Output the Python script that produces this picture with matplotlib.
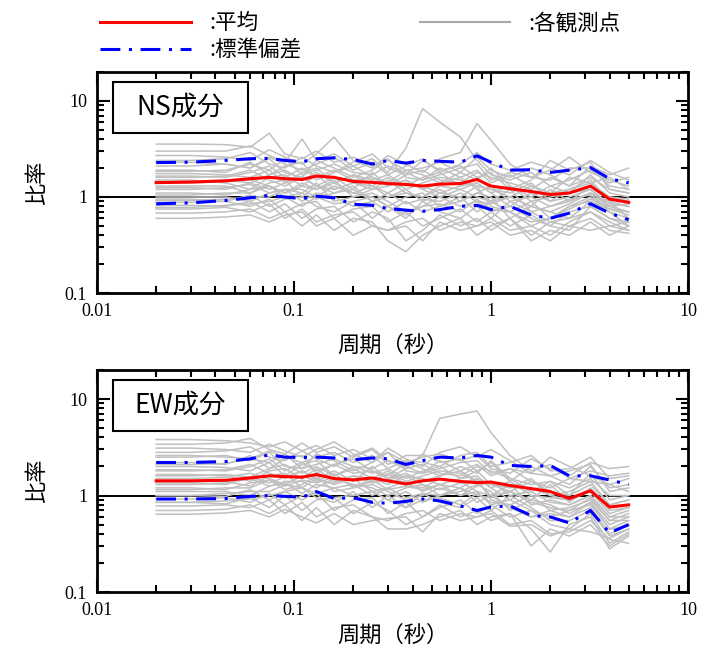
import numpy as np
import matplotlib.pyplot as plt
from matplotlib.lines import Line2D
from matplotlib.patches import Rectangle

plt.rcParams['font.family'] = ['Noto Sans CJK JP', 'DejaVu Sans']

# periods (s) used for all curves
period = [0.02, 0.03, 0.045, 0.06, 0.075, 0.09, 0.11, 0.13, 0.16, 0.2, 0.25, 0.3, 0.37,
          0.45, 0.55, 0.7, 0.85, 1.0, 1.25, 1.6, 2.0, 2.5, 3.2, 4.0, 5.0]

# NS component
ns_mean = [1.41, 1.43, 1.47, 1.55, 1.6, 1.55, 1.52, 1.65, 1.6, 1.45, 1.42, 1.38, 1.35,
           1.3, 1.36, 1.38, 1.52, 1.3, 1.22, 1.14, 1.06, 1.1, 1.3, 0.95, 0.88]
ns_upper = [2.28, 2.3, 2.4, 2.5, 2.52, 2.4, 2.32, 2.5, 2.55, 2.45, 2.2, 2.4, 2.25,
            2.4, 2.35, 2.3, 2.68, 2.3, 1.9, 1.92, 1.8, 1.9, 2.02, 1.55, 1.4]
ns_lower = [0.85, 0.87, 0.92, 0.98, 1.04, 1.0, 0.96, 1.02, 0.98, 0.84, 0.82, 0.76, 0.73,
            0.71, 0.74, 0.8, 0.82, 0.74, 0.8, 0.65, 0.6, 0.68, 0.85, 0.68, 0.58]
ns_sites = [
    [3.55, 3.55, 3.5, 3.3, 4.6, 2.8, 2.5, 3.0, 2.3, 2.6, 2.1, 2.4, 1.9, 2.0, 2.3, 1.8, 2.6, 1.9, 1.6, 2.0, 1.7, 1.3, 2.1, 1.7, 2.0],
    [3.0, 3.0, 3.0, 3.4, 2.7, 2.3, 4.0, 2.4, 2.8, 2.1, 2.5, 1.8, 3.2, 8.3, 6.0, 4.2, 2.4, 1.7, 1.5, 1.8, 1.3, 1.5, 1.9, 1.4, 1.6],
    [2.7, 2.7, 2.6, 2.4, 3.1, 2.6, 2.2, 2.8, 4.2, 2.4, 2.0, 2.7, 2.2, 1.8, 2.5, 2.9, 5.8, 3.9, 2.2, 1.6, 1.9, 2.6, 1.8, 1.5, 1.3],
    [2.4, 2.4, 2.5, 2.9, 2.2, 2.0, 2.6, 2.1, 1.8, 2.3, 2.8, 2.0, 1.7, 2.4, 1.9, 2.1, 1.6, 1.8, 1.2, 1.5, 2.4, 1.9, 2.3, 1.2, 1.1],
    [2.3, 2.3, 2.2, 2.0, 2.6, 2.2, 1.9, 2.2, 2.6, 1.9, 2.3, 1.7, 2.1, 2.5, 1.8, 2.2, 2.9, 2.2, 1.9, 2.3, 2.0, 1.7, 2.4, 1.8, 1.5],
    [2.1, 2.1, 2.2, 2.0, 2.5, 1.8, 1.6, 2.4, 2.0, 1.6, 1.9, 2.5, 1.6, 1.5, 2.0, 1.6, 1.9, 1.4, 1.7, 1.3, 1.1, 1.6, 1.4, 1.6, 1.2],
    [1.9, 1.9, 1.8, 2.3, 1.7, 2.1, 2.3, 1.5, 1.8, 2.1, 1.6, 1.4, 1.9, 1.7, 1.4, 1.8, 1.5, 2.0, 1.3, 1.0, 1.3, 1.1, 1.7, 1.1, 1.0],
    [1.85, 1.85, 1.9, 2.2, 1.9, 2.5, 1.7, 1.9, 2.2, 1.8, 1.7, 2.1, 1.8, 1.5, 1.7, 2.0, 2.2, 1.5, 1.8, 1.6, 1.5, 2.0, 2.0, 1.3, 1.2],
    [1.75, 1.75, 1.7, 1.6, 1.9, 1.4, 1.8, 2.0, 1.4, 1.7, 1.5, 1.7, 1.3, 1.6, 1.8, 1.3, 1.6, 1.2, 1.1, 1.4, 0.9, 1.2, 1.5, 0.9, 0.8],
    [1.65, 1.65, 1.6, 1.8, 2.1, 1.6, 2.0, 1.6, 1.9, 1.5, 1.6, 1.3, 1.7, 1.9, 1.5, 1.4, 1.8, 1.6, 1.4, 1.2, 1.6, 1.3, 1.6, 1.2, 1.1],
    [1.6, 1.6, 1.65, 1.9, 1.5, 1.3, 1.6, 1.3, 1.6, 1.2, 1.8, 1.3, 1.5, 1.2, 1.4, 1.6, 1.2, 0.9, 1.0, 0.8, 1.2, 0.9, 1.3, 1.0, 0.9],
    [1.5, 1.5, 1.4, 1.2, 1.6, 1.7, 1.3, 1.7, 1.2, 1.4, 1.3, 1.1, 1.4, 1.3, 1.1, 1.3, 1.4, 1.1, 0.8, 1.1, 0.9, 1.0, 1.2, 0.8, 0.7],
    [1.45, 1.45, 1.5, 1.4, 1.7, 1.9, 1.5, 1.8, 1.4, 1.7, 1.3, 1.6, 1.2, 1.4, 1.6, 1.5, 1.3, 1.2, 1.0, 1.3, 1.1, 1.2, 1.4, 1.0, 0.95],
    [1.4, 1.4, 1.45, 1.5, 1.3, 1.1, 1.4, 1.2, 1.5, 1.0, 1.2, 1.5, 1.1, 1.0, 1.3, 1.2, 1.0, 0.9, 1.2, 0.7, 0.8, 0.9, 1.1, 0.8, 0.85],
    [1.3, 1.3, 1.3, 1.1, 1.4, 1.5, 1.0, 1.3, 1.1, 1.3, 0.9, 1.0, 1.2, 0.9, 1.1, 1.0, 1.3, 0.8, 0.7, 0.9, 0.6, 0.8, 1.0, 0.7, 0.6],
    [1.25, 1.25, 1.2, 1.4, 1.2, 1.4, 1.6, 1.3, 1.2, 1.4, 1.2, 1.3, 1.5, 1.2, 1.0, 1.2, 1.4, 1.1, 1.3, 0.9, 1.0, 1.1, 1.2, 0.85, 0.8],
    [1.2, 1.2, 1.25, 1.35, 1.1, 1.2, 1.2, 1.0, 1.3, 1.1, 1.0, 0.8, 1.0, 1.1, 0.8, 0.9, 1.1, 1.0, 0.6, 0.8, 0.7, 0.6, 0.9, 0.75, 0.65],
    [1.1, 1.1, 1.05, 1.2, 1.3, 1.0, 1.1, 1.4, 0.9, 1.0, 1.1, 0.9, 0.7, 0.8, 1.0, 0.8, 0.9, 0.7, 0.8, 0.6, 0.5, 0.7, 0.8, 0.6, 0.55],
    [1.05, 1.05, 1.1, 1.1, 1.3, 1.1, 1.3, 1.2, 1.4, 1.1, 1.3, 1.0, 1.1, 1.0, 1.2, 0.9, 1.1, 1.3, 0.9, 1.0, 0.8, 0.95, 1.05, 0.75, 0.7],
    [1.0, 1.0, 1.0, 0.9, 1.1, 1.2, 0.9, 1.1, 1.0, 0.8, 0.9, 0.7, 0.9, 0.7, 0.8, 1.0, 0.7, 0.9, 0.7, 0.5, 0.6, 0.8, 0.9, 0.7, 0.5],
    [0.95, 0.95, 0.9, 1.05, 0.8, 0.95, 1.0, 0.8, 0.7, 0.9, 0.6, 0.8, 0.6, 0.9, 0.7, 0.6, 0.8, 0.6, 0.9, 0.7, 0.55, 0.6, 0.7, 0.55, 0.45],
    [0.92, 0.92, 0.95, 1.0, 1.0, 1.2, 1.1, 0.95, 1.1, 1.2, 0.9, 1.1, 0.85, 0.95, 0.9, 1.1, 0.9, 0.85, 1.0, 0.8, 0.7, 0.85, 1.1, 0.9, 0.6],
    [0.88, 0.88, 0.9, 0.8, 0.95, 0.7, 0.85, 0.9, 0.6, 0.75, 0.8, 0.55, 0.7, 0.5, 0.6, 0.75, 0.55, 0.7, 0.5, 0.65, 0.5, 0.45, 0.8, 0.6, 0.5],
    [0.82, 0.82, 0.8, 0.9, 0.7, 0.85, 0.6, 0.75, 0.8, 0.55, 0.7, 0.6, 0.35, 0.45, 0.65, 0.5, 0.6, 0.45, 0.6, 0.4, 0.55, 0.5, 0.6, 0.45, 0.42],
    [0.78, 0.78, 0.82, 0.85, 0.9, 1.0, 0.8, 1.0, 0.85, 0.9, 1.0, 0.8, 0.65, 0.8, 0.85, 0.7, 0.95, 0.75, 0.7, 0.55, 0.6, 0.75, 0.95, 0.8, 0.7],
    [0.75, 0.75, 0.78, 0.7, 0.85, 0.6, 0.75, 0.55, 0.65, 0.7, 0.5, 0.45, 0.55, 0.6, 0.45, 0.55, 0.5, 0.6, 0.45, 0.5, 0.4, 0.55, 0.7, 0.5, 0.45],
    [0.68, 0.68, 0.7, 0.75, 0.6, 0.7, 0.5, 0.65, 0.45, 0.6, 0.55, 0.35, 0.27, 0.4, 0.5, 0.6, 0.4, 0.5, 0.6, 0.35, 0.45, 0.4, 0.55, 0.4, 0.5],
    [0.6, 0.6, 0.62, 0.65, 0.55, 0.65, 0.7, 0.5, 0.6, 0.4, 0.5, 0.45, 0.5, 0.35, 0.55, 0.45, 0.5, 0.55, 0.4, 0.45, 0.35, 0.5, 0.45, 0.5, 0.55],
]

# EW component
ew_mean = [1.42, 1.42, 1.44, 1.52, 1.6, 1.57, 1.55, 1.65, 1.5, 1.45, 1.52, 1.42, 1.32,
           1.42, 1.48, 1.4, 1.36, 1.38, 1.27, 1.18, 1.1, 0.93, 1.12, 0.76, 0.8]
ew_upper = [2.2, 2.2, 2.25, 2.4, 2.64, 2.5, 2.48, 2.5, 2.45, 2.35, 2.45, 2.4, 2.1,
            2.3, 2.5, 2.45, 2.6, 2.5, 2.05, 2.0, 2.05, 1.6, 1.6, 1.45, 1.3]
ew_lower = [0.92, 0.92, 0.93, 0.98, 1.0, 0.98, 0.96, 1.1, 0.93, 0.95, 0.85, 0.83, 0.87,
            0.92, 0.88, 0.78, 0.7, 0.76, 0.78, 0.62, 0.6, 0.52, 0.7, 0.41, 0.5]
ew_sites = [
    [3.8, 3.8, 3.7, 3.5, 3.2, 3.6, 2.9, 3.3, 2.6, 3.0, 2.4, 2.8, 2.2, 2.5, 2.7, 2.3, 2.6, 1.9, 1.7, 2.4, 1.9, 1.6, 2.2, 1.9, 2.0],
    [3.4, 3.4, 3.5, 3.9, 3.0, 2.7, 3.5, 2.8, 3.2, 2.5, 3.0, 2.1, 2.6, 2.6, 6.3, 7.0, 7.5, 4.5, 2.6, 1.8, 2.1, 1.5, 1.8, 1.6, 1.7],
    [3.1, 3.1, 3.0, 2.8, 3.4, 2.9, 2.5, 3.0, 3.6, 2.7, 2.2, 3.1, 2.4, 2.0, 2.8, 3.2, 2.5, 3.0, 2.3, 1.7, 2.5, 2.0, 1.6, 1.3, 1.5],
    [2.8, 2.8, 2.9, 3.2, 2.5, 2.3, 2.9, 2.4, 2.0, 2.6, 3.1, 2.3, 1.9, 2.7, 2.2, 2.4, 1.8, 2.2, 1.4, 2.0, 1.6, 1.8, 2.1, 1.1, 1.2],
    [2.6, 2.6, 2.5, 2.4, 2.9, 2.5, 2.2, 2.5, 2.8, 2.2, 2.6, 1.9, 2.3, 2.2, 2.0, 2.6, 2.8, 2.0, 2.2, 2.6, 1.8, 1.9, 2.5, 1.5, 1.6],
    [2.5, 2.5, 2.6, 2.3, 2.8, 2.0, 1.9, 2.7, 2.3, 1.8, 2.2, 2.8, 1.8, 1.7, 2.3, 1.8, 2.1, 1.6, 1.9, 1.4, 1.2, 1.5, 1.4, 1.3, 1.1],
    [2.2, 2.2, 2.1, 2.6, 1.9, 2.4, 2.6, 1.7, 2.1, 2.4, 1.8, 1.6, 2.2, 1.9, 1.6, 2.0, 1.7, 2.3, 1.5, 1.1, 1.4, 1.0, 1.7, 0.9, 1.0],
    [2.1, 2.1, 2.15, 2.4, 2.2, 2.7, 1.9, 2.1, 2.4, 2.0, 1.9, 2.3, 2.0, 1.7, 1.9, 2.2, 2.3, 1.7, 1.9, 1.7, 1.6, 1.3, 2.0, 1.2, 1.3],
    [2.0, 2.0, 1.95, 1.8, 2.2, 1.6, 2.1, 2.3, 1.6, 2.0, 1.7, 1.9, 1.5, 1.8, 2.0, 1.5, 1.8, 1.3, 1.2, 1.5, 1.0, 1.1, 1.4, 0.8, 0.9],
    [1.85, 1.85, 1.8, 2.0, 2.4, 1.8, 2.2, 1.8, 2.1, 1.7, 1.8, 1.5, 1.9, 2.1, 1.7, 1.6, 2.0, 1.8, 1.5, 1.3, 1.4, 1.2, 1.5, 1.0, 1.0],
    [1.8, 1.8, 1.85, 2.1, 1.7, 1.5, 1.8, 1.5, 1.8, 1.4, 2.0, 1.5, 1.7, 1.4, 1.6, 1.8, 1.4, 1.0, 1.1, 0.9, 1.3, 0.85, 1.2, 0.75, 0.8],
    [1.65, 1.65, 1.6, 1.4, 1.8, 1.9, 1.5, 1.9, 1.4, 1.6, 1.5, 1.3, 1.6, 1.5, 1.3, 1.5, 1.6, 1.2, 0.9, 1.2, 1.0, 0.9, 1.1, 0.65, 0.75],
    [1.6, 1.6, 1.65, 1.55, 1.9, 2.1, 1.7, 2.0, 1.6, 1.9, 1.5, 1.8, 1.4, 1.6, 1.8, 1.7, 1.4, 1.3, 1.1, 1.4, 1.1, 1.0, 1.3, 0.8, 0.9],
    [1.5, 1.5, 1.55, 1.7, 1.5, 1.3, 1.6, 1.4, 1.7, 1.2, 1.4, 1.7, 1.3, 1.2, 1.5, 1.4, 1.1, 1.0, 1.3, 0.8, 0.9, 0.8, 1.0, 0.6, 0.7],
    [1.4, 1.4, 1.4, 1.25, 1.6, 1.7, 1.2, 1.5, 1.3, 1.5, 1.1, 1.2, 1.4, 1.1, 1.3, 1.2, 1.5, 0.9, 0.8, 1.0, 0.7, 0.75, 0.9, 0.55, 0.65],
    [1.35, 1.35, 1.3, 1.55, 1.35, 1.55, 1.8, 1.45, 1.35, 1.6, 1.35, 1.45, 1.6, 1.3, 1.15, 1.35, 1.5, 1.2, 1.4, 1.0, 0.95, 0.9, 1.15, 0.7, 0.75],
    [1.3, 1.3, 1.35, 1.5, 1.25, 1.4, 1.4, 1.2, 1.5, 1.3, 1.2, 1.0, 1.2, 1.3, 1.0, 1.1, 1.3, 1.1, 0.7, 0.9, 0.8, 0.65, 0.85, 0.5, 0.6],
    [1.2, 1.2, 1.15, 1.35, 1.45, 1.15, 1.3, 1.6, 1.1, 1.2, 1.3, 1.1, 0.9, 1.0, 1.2, 1.0, 1.1, 0.8, 0.9, 0.7, 0.6, 0.7, 0.8, 0.45, 0.55],
    [1.15, 1.15, 1.2, 1.2, 1.45, 1.25, 1.45, 1.35, 1.55, 1.25, 1.45, 1.15, 1.25, 1.15, 1.3, 1.0, 1.25, 1.4, 1.0, 1.1, 0.85, 0.8, 1.0, 0.6, 0.6],
    [1.1, 1.1, 1.1, 1.0, 1.25, 1.35, 1.05, 1.3, 1.2, 1.0, 1.1, 0.9, 1.1, 0.85, 1.0, 1.2, 0.85, 1.0, 0.75, 0.6, 0.7, 0.6, 0.75, 0.4, 0.5],
    [1.0, 1.0, 1.05, 1.1, 1.1, 1.3, 1.2, 1.05, 1.2, 1.3, 1.0, 1.2, 0.95, 1.05, 1.0, 1.2, 1.0, 0.95, 1.1, 0.85, 0.75, 0.7, 0.95, 0.55, 0.55],
    [1.0, 1.0, 0.98, 1.15, 0.9, 1.1, 1.2, 0.95, 0.85, 1.1, 0.75, 1.0, 0.75, 1.05, 0.85, 0.75, 0.95, 0.7, 1.0, 0.75, 0.55, 0.55, 0.7, 0.38, 0.45],
    [0.92, 0.92, 0.95, 0.85, 1.05, 0.8, 1.0, 1.05, 0.7, 0.9, 0.95, 0.65, 0.85, 0.6, 0.75, 0.9, 0.65, 0.8, 0.6, 0.7, 0.5, 0.45, 0.65, 0.32, 0.42],
    [0.85, 0.85, 0.88, 0.92, 1.0, 1.1, 0.9, 1.1, 0.95, 1.0, 1.1, 0.9, 0.75, 0.9, 0.95, 0.8, 1.05, 0.85, 0.8, 0.6, 0.65, 0.6, 0.85, 0.45, 0.48],
    [0.85, 0.85, 0.82, 0.95, 0.75, 1.0, 0.7, 0.9, 0.95, 0.65, 0.85, 0.7, 0.5, 0.6, 0.8, 0.6, 0.7, 0.55, 0.65, 0.45, 0.26, 0.5, 0.6, 0.28, 0.38],
    [0.78, 0.78, 0.8, 0.75, 0.9, 0.65, 0.85, 0.6, 0.75, 0.8, 0.6, 0.55, 0.65, 0.7, 0.55, 0.65, 0.6, 0.7, 0.5, 0.55, 0.4, 0.42, 0.55, 0.35, 0.32],
    [0.7, 0.7, 0.72, 0.8, 0.65, 0.8, 0.55, 0.75, 0.5, 0.7, 0.6, 0.45, 0.45, 0.5, 0.6, 0.7, 0.5, 0.6, 0.65, 0.3, 0.45, 0.38, 0.5, 0.3, 0.4],
    [0.64, 0.64, 0.66, 0.7, 0.6, 0.72, 0.6, 0.52, 0.65, 0.5, 0.55, 0.58, 0.6, 0.42, 0.65, 0.55, 0.6, 0.65, 0.48, 0.5, 0.38, 0.45, 0.42, 0.36, 0.45],
]

x_ticks = [0.01, 0.1, 1, 10]
x_ticklabels = ["0.01", "0.1", "1", "10"]
y_ticks = [0.1, 1, 10]
y_ticklabels = ["0.1", "1", "10"]

gray = "#c0c0c0"
dashdot = (0, (6.5, 2.8, 1, 2.8))

fig = plt.figure(figsize=(7.02, 6.53), dpi=100)
ax1 = fig.add_axes([0.138, 0.551, 0.842, 0.339])
ax2 = fig.add_axes([0.138, 0.0934, 0.842, 0.340])

panels = [(ax1, "NS成分", ns_sites, ns_mean, ns_upper, ns_lower, 10),
          (ax2, "EW成分", ew_sites, ew_mean, ew_upper, ew_lower, 4)]

for ax, name, sites, mean, upper, lower, xpad in panels:
    ax.axhline(1, color="black", lw=1.4, zorder=1)
    for s in sites:
        ax.plot(period, s, color=gray, lw=1.1, zorder=2)
    ax.plot(period, upper, color="blue", lw=2.2, ls=dashdot, zorder=3)
    ax.plot(period, lower, color="blue", lw=2.2, ls=dashdot, zorder=3)
    ax.plot(period, mean, color="red", lw=2.2, zorder=4)

    ax.set_xscale("log")
    ax.set_yscale("log")
    ax.set_xlim(0.01, 10)
    ax.set_ylim(0.1, 20)
    ax.set_xticks(x_ticks)
    ax.set_xticklabels(x_ticklabels, fontfamily="Liberation Serif", fontsize=13)
    ax.set_yticks(y_ticks)
    ax.set_yticklabels(y_ticklabels, fontfamily="Liberation Serif", fontsize=13)
    ax.tick_params(which="both", direction="in", top=True, right=True, width=1.5)
    ax.tick_params(which="major", length=9, pad=7)
    ax.tick_params(which="minor", length=5)
    for sp in ax.spines.values():
        sp.set_linewidth(2)
    ax.set_xlabel("周期（秒）", fontsize=16, labelpad=xpad)
    ax.set_ylabel("比率", fontsize=16, labelpad=12)

    ax.add_patch(Rectangle((0.027, 0.724), 0.229, 0.231, transform=ax.transAxes,
                           facecolor="white", edgecolor="black", lw=1.5, zorder=5))
    ax.text(0.1415, 0.84, name, transform=ax.transAxes, ha="center", va="center",
            fontsize=19, zorder=6)

handles = [Line2D([], [], color="red", lw=2.2),
           Line2D([], [], color="blue", lw=2.2, ls=dashdot),
           Line2D([], [], color="#a8a8a8", lw=1.5)]
labels = [":平均", ":標準偏差", ":各観測点"]
fig.legend(handles, labels, ncol=2, loc="upper left", bbox_to_anchor=(0.1215, 1.0046),
           frameon=False, fontsize=15.5, handlelength=4.2, handletextpad=0.85,
           columnspacing=5.5, labelspacing=0.25, borderpad=0.2)

fig.savefig("out.png", dpi=100)
